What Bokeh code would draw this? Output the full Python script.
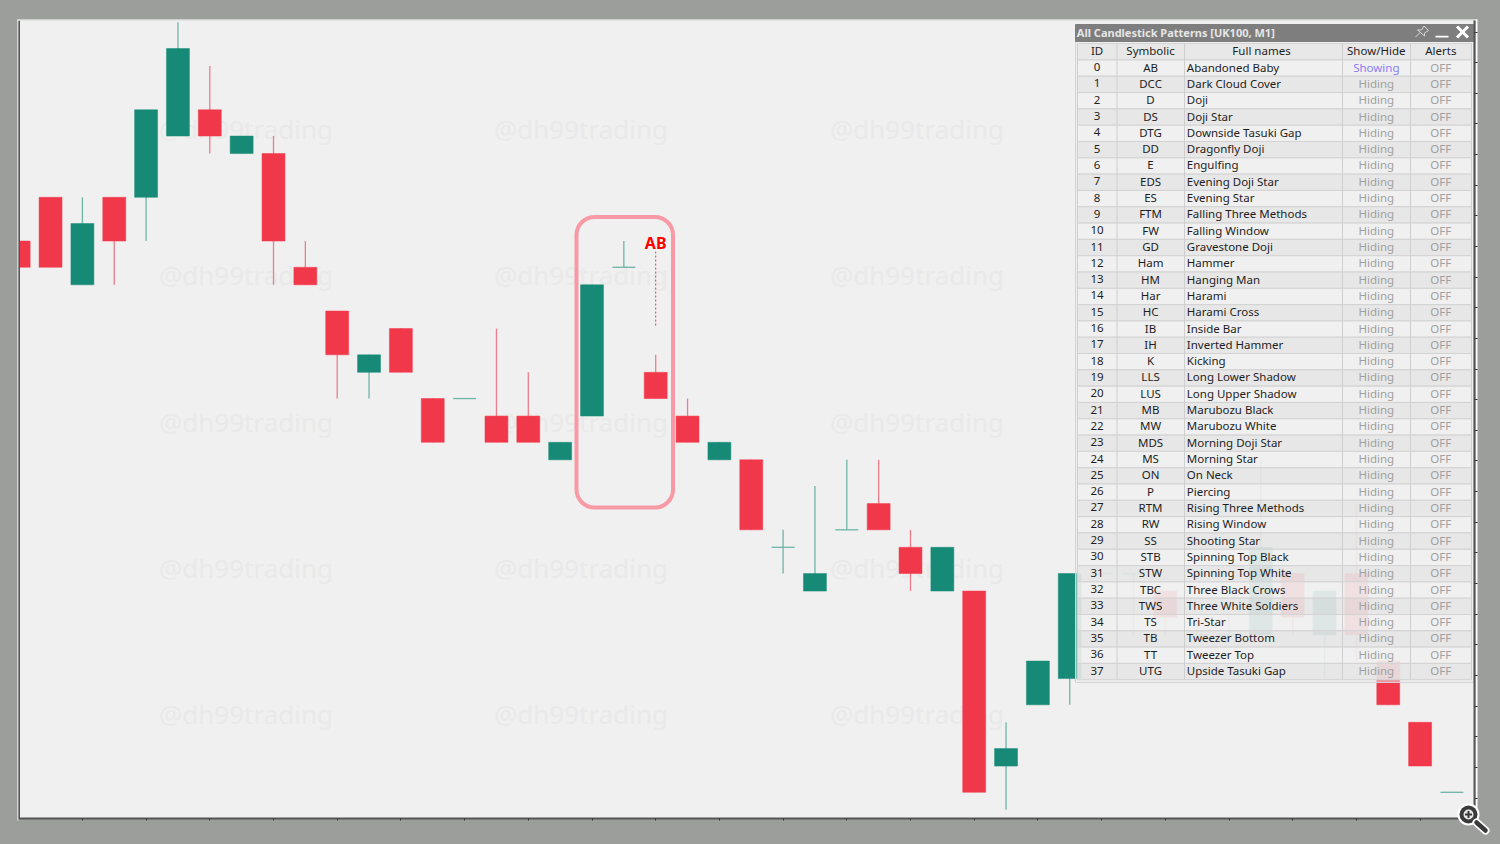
from bokeh.plotting import figure
from bokeh.models import Range1d, FixedTicker, LinearAxis, ColumnDataSource, BoxAnnotation
from bokeh.core.properties import value
from bokeh.embed import file_html
from bokeh.resources import INLINE

# ---- candles: offsets from the base price, tenths of a point
base_price = 7400.0
opens  = [65,70,60,70,70,77,80,75,75,62,57,50,55,47,47,45,45,40,45,62,50,45,40,40,30,25,32,35,30,25,25,5,12,15,27,27,25,20,20,20,27,20,27,17,10,2]
closes = [62,62,67,65,80,87,77,77,65,60,52,52,50,42,47,42,42,42,60,62,47,42,42,32,30,27,32,32,27,30,2,7,17,27,27,27,22,20,20,30,22,25,20,12,5,2]
highs  = [65,70,70,70,80,90,85,77,77,65,57,52,55,47,47,55,50,42,60,65,52,47,42,40,32,37,40,40,32,30,25,10,17,27,27,27,25,22,22,40,27,25,35,17,10,2]
lows   = [62,62,60,60,65,77,75,75,60,60,47,47,50,42,47,42,42,40,45,62,47,42,40,32,27,25,32,32,25,25,2,0,12,12,27,20,20,20,20,20,20,15,17,12,5,2]
marker_index = 20
marker_label = "AB"
marker_top, marker_bottom = 63.8, 55.3

# ---- panel
panel_title = "All Candlestick Patterns [UK100, M1]"
headers = ["ID", "Symbolic", "Full  names", "Show/Hide", "Alerts"]
symbols = ["AB","DCC","D","DS","DTG","DD","E","EDS","ES","FTM","FW","GD","Ham","HM","Har","HC","IB","IH","K","LLS","LUS","MB","MW","MDS","MS","ON","P","RTM","RW","SS","STB","STW","TBC","TWS","TS","TB","TT","UTG"]
names = ["Abandoned Baby","Dark Cloud Cover","Doji","Doji Star","Downside Tasuki Gap","Dragonfly Doji","Engulfing","Evening Doji Star","Evening Star","Falling Three Methods","Falling Window","Gravestone Doji","Hammer","Hanging Man","Harami","Harami Cross","Inside Bar","Inverted Hammer","Kicking","Long Lower Shadow","Long Upper Shadow","Marubozu Black","Marubozu White","Morning Doji Star","Morning Star","On Neck","Piercing","Rising Three Methods","Rising Window","Shooting Star","Spinning Top Black","Spinning Top White","Three Black Crows","Three White Soldiers","Tri-Star","Tweezer Bottom","Tweezer Top","Upside Tasuki Gap"]

GREEN, RED = "#178a77", "#f1384b"
GREEN_W, RED_W = "#6db5a8", "#ef7c8b"
BG, OUT = "#f0f0f0", "#9c9e9c"
INK = "#1e1e1e"
FONT = value("Noto Sans")

# chart area in page pixels; the plot frame itself fills the whole page
FX0, FX1, FY0, FY1 = 19, 1474, 20, 818
CX0, CX1, CY0, CY1 = 0, 1499, 0, 843
STEP, X0 = 31.85, 18.2
Y_PER = 8.75; Y_ZERO = 809.3
to_i = lambda px: (px - X0) / STEP
to_p = lambda py: base_price + (Y_ZERO - py) / Y_PER / 10

p = figure(width=CX1 - CX0, height=CY1 - CY0, output_backend="svg", toolbar_location=None,
           x_axis_location=None, y_axis_location=None,
           x_range=Range1d(to_i(CX0), to_i(CX1)), y_range=Range1d(to_p(CY1), to_p(CY0)),
           min_border_left=0, min_border_right=0, min_border_top=0, min_border_bottom=0,
           background_fill_color=OUT, border_fill_color=OUT, outline_line_color=None)
p.grid.visible = False
p.extra_x_ranges["px"] = Range1d(CX0, CX1)
p.extra_y_ranges["px"] = Range1d(CY1, CY0)
PX = dict(x_range_name="px", y_range_name="px")

def box(l, r, t, b, color, **kw):
    p.add_layout(BoxAnnotation(left=l, right=r, top=t, bottom=b, fill_color=color, fill_alpha=1,
                               line_alpha=0, **PX, **kw))
def strip(l, r, t, b, color):
    p.quad(left=[l], right=[r], top=[t], bottom=[b], fill_color=color, line_color=None, **PX)

strip(FX0, FX1, FY0, FY1, BG)

# axes: bare ticks along the bottom and right edges of the chart area
bottom_ticks = list(range(2, 46, 2))
right_ticks = [to_p(31.5 + 30.64 * k) for k in range(26)]
ax_b = LinearAxis(ticker=FixedTicker(ticks=bottom_ticks), major_label_overrides={t: "" for t in bottom_ticks},
                  fixed_location=to_p(FY1), bounds=(to_i(FX0), to_i(FX1)),
                  major_tick_in=0, major_tick_out=2, minor_tick_line_color=None,
                  axis_line_color="#555555", axis_line_width=2, major_tick_line_color="#333333")
p.add_layout(ax_b, "below")
ax_r = LinearAxis(ticker=FixedTicker(ticks=right_ticks), major_label_overrides={t: "" for t in right_ticks},
                  fixed_location=to_i(FX1), bounds=(to_p(FY1), to_p(FY0)),
                  major_tick_in=0, major_tick_out=3, minor_tick_line_color=None,
                  axis_line_color="#555555", axis_line_width=2, major_tick_line_color="#333333")
p.add_layout(ax_r, "right")

# watermark
wm_x, wm_y = [], []
for wx in (245.5, 580.5, 916.5):
    for wy in (128, 274, 421, 567, 713):
        wm_x.append(wx); wm_y.append(wy)
p.text(x=wm_x, y=wm_y, text=["@dh99trading"] * len(wm_x), text_font=FONT, text_font_size="26px",
       text_color="#e9e9e9", text_align="center", text_baseline="middle", **PX)

# candles
idx = list(range(len(opens)))
P = lambda v: base_price + v / 10
src = ColumnDataSource(dict(
    x=idx,
    h=[P(v) for v in highs], l=[P(v) for v in lows],
    wick=[RED_W if c < o else GREEN_W for o, c in zip(opens, closes)],
))
p.segment(x0="x", y0="h", x1="x", y1="l", line_color="wick", line_width=1.3, source=src)
bars = [i for i in idx if opens[i] != closes[i]]
p.vbar(x=bars, width=0.72, top=[P(opens[i]) for i in bars], bottom=[P(closes[i]) for i in bars],
       fill_color=[RED if closes[i] < opens[i] else GREEN for i in bars],
       line_color=[RED if closes[i] < opens[i] else GREEN for i in bars], line_width=0.5)

# doji ticks (flat bodies)
dj = [i for i in idx if opens[i] == closes[i]]
p.segment(x0=[i - 0.36 for i in dj], y0=[P(opens[i]) for i in dj], x1=[i + 0.36 for i in dj], y1=[P(opens[i]) for i in dj],
          line_color=GREEN_W, line_width=1.3)

# margin left of the chart area, with the frame's edges
strip(CX0, FX0, CY0, CY1, OUT)
strip(17, 18, 19, 820, "#ffffff")
strip(18, 19.5, 20, 819, "#555555")
strip(17, 1477, 19, 20, "#ffffff")
strip(1475, 1477, 19, 819, "#ffffff")

# pattern marker
p.segment(x0=[marker_index], y0=[P(marker_top)], x1=[marker_index], y1=[P(marker_bottom)],
          line_color=RED, line_width=1, line_dash="2 2")
p.text(x=[marker_index], y=[P(marker_top)], text=[marker_label], text_font=FONT, text_font_size="16px",
       text_font_style="bold", text_color="#ff0000", text_align="center", text_baseline="bottom", y_offset=[2])
p.add_layout(BoxAnnotation(left=576, right=672.5, top=216.5, bottom=507, border_radius=18,
                           fill_alpha=0, line_color="#f79aa5", line_width=4, line_alpha=1, **PX))

# panel
PL, PR, PT, PB = 1075, 1473, 24, 682
ROW_H = 16.31
ROW0 = 67.6
cols = [1077, 1116.5, 1184, 1342, 1410, 1471]
rows_n = len(names)
p.quad(left=[PL], right=[PR], top=[PT], bottom=[PB], fill_color="#ececec", fill_alpha=0.5, line_color="#d4d4d4", line_width=1, **PX)
p.quad(left=[PL], right=[PR], top=[PT], bottom=[41], fill_color="#7e7e7e", line_color="#7e7e7e", **PX)
p.text(x=[1076.3], y=[32], text=[panel_title], text_font=FONT, text_font_size="11px", text_font_style="bold",
       text_color="#e6e6e6", text_align="left", text_baseline="middle", **PX)

# table rows
tops = [ROW0 - ROW_H * 1.5 + ROW_H * i for i in range(rows_n + 1)]
fills = ["#e6e6e6"] + ["#f0f0f0" if i % 2 == 0 else "#e5e5e5" for i in range(rows_n)]
p.quad(left=[cols[0]] * (rows_n + 1), right=[cols[-1]] * (rows_n + 1), top=tops, bottom=[t + ROW_H for t in tops],
       fill_color=fills, fill_alpha=0.84, line_color="#d3d3d3", line_width=1, **PX)
p.segment(x0=cols, y0=[tops[0]] * len(cols), x1=cols, y1=[tops[-1] + ROW_H] * len(cols),
          line_color="#cfcfcf", line_width=1, **PX)

cx = [(cols[0] + cols[1]) / 2 - 0.2, (cols[1] + cols[2]) / 2 - 0.2, (cols[2] + cols[3]) / 2 - 0.5, (cols[3] + cols[4]) / 2 - 0.2, (cols[4] + cols[5]) / 2 - 0.2]
ys = [ROW0 - 1 + ROW_H * i for i in range(rows_n)]
TXT = dict(text_font=FONT, text_font_size="11.5px", text_baseline="middle", **PX)
p.text(x=cx, y=[ROW0 - 1 - ROW_H] * 5, text=headers, text_color=INK, text_align="center", **TXT)
p.text(x=[cx[0]] * rows_n, y=ys, text=[str(i) for i in range(rows_n)], text_color=INK, text_align="center", **TXT)
p.text(x=[cx[1]] * rows_n, y=ys, text=symbols, text_color=INK, text_align="center", **TXT)
p.text(x=[1186.3] * rows_n, y=ys, text=names, text_color=INK, text_align="left", **TXT)
p.text(x=[cx[3]] * rows_n, y=ys, text=["Showing"] + ["Hiding"] * (rows_n - 1),
       text_color=["#8a7cf5"] + ["#a0a0a0"] * (rows_n - 1), text_align="center", **TXT)
p.text(x=[cx[4]] * rows_n, y=ys, text=["OFF"] * rows_n, text_color="#a0a0a0", text_align="center", **TXT)

# title-bar icons
p.segment(x0=[1456.5, 1467.5, 1435], y0=[26, 26, 36.2], x1=[1467.5, 1456.5, 1448], y1=[37, 37, 36.2],
          line_color="#ffffff", line_width=[3, 3, 1.8], **PX)
p.multi_line(xs=[[1417, 1421, 1423.5, 1428, 1424, 1424, 1417], [1415, 1419.5]],
             ys=[[29.5, 29.5, 25.5, 30, 32.5, 35.5, 29.5], [36.5, 32]], line_color="#d8d8d8", line_width=1, **PX)

# magnifier icon, above the axes
MX, MY = 1468, 814
def disc(r, color):
    p.add_layout(BoxAnnotation(left=MX - r, right=MX + r, top=MY - r, bottom=MY + r, border_radius=r,
                               fill_color=color, fill_alpha=1, line_alpha=0, **PX))
p.segment(x0=[1476], y0=[822], x1=[1485], y1=[830], line_color="#ffffff", line_width=8, line_cap="round", level="overlay", **PX)
disc(11, "#ffffff")
p.segment(x0=[1476], y0=[822], x1=[1485], y1=[830], line_color="#3a3a3a", line_width=4.5, line_cap="round", level="overlay", **PX)
disc(9, "#3a3a3a")
disc(5, "#e8e8e8")
box(MX - 3.5, MX + 3.5, MY - 1, MY + 1, "#3a3a3a")
box(MX - 1, MX + 1, MY - 3.5, MY + 3.5, "#3a3a3a")

html = file_html(p, INLINE)
html = html.replace("<head>", "<head><style>html,body{background:%s;}</style>" % OUT, 1)
open("out.html", "w").write(html)
